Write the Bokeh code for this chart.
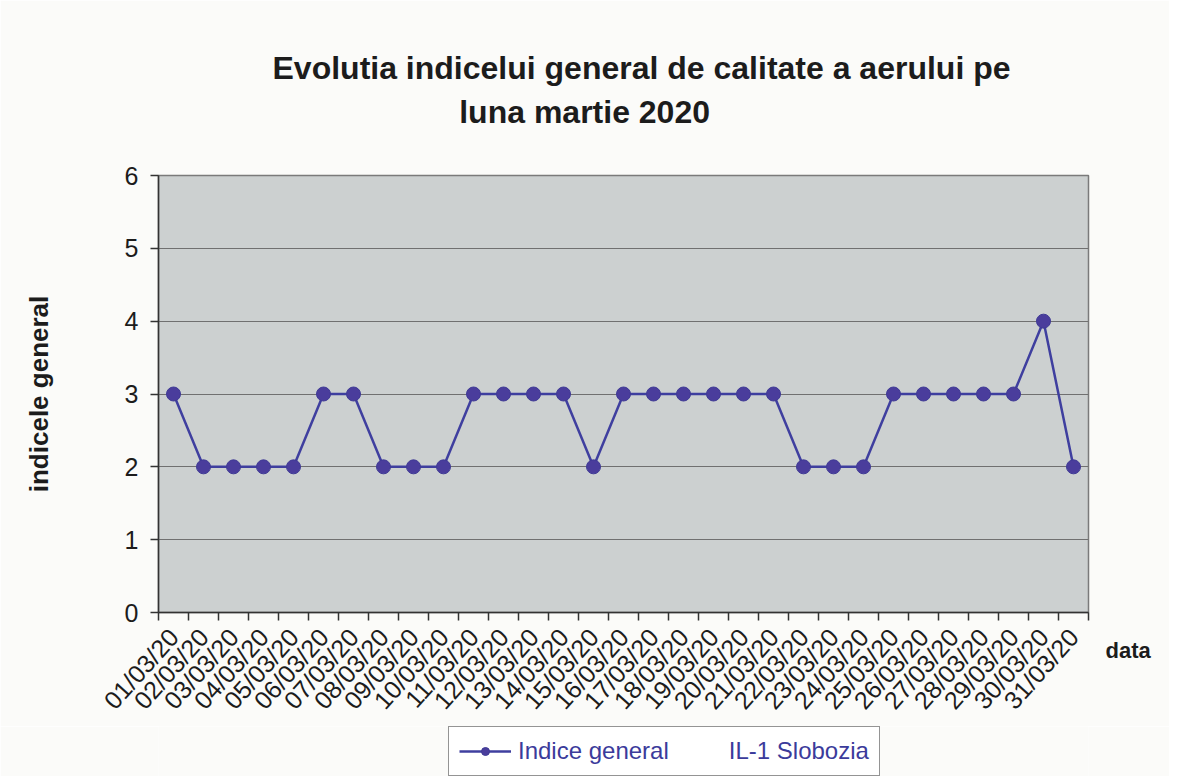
import math
from bokeh.plotting import figure
from bokeh.layouts import column
from bokeh.models import (ColumnDataSource, FixedTicker, Title, Legend,
                          LegendItem, Range1d, LinearAxis)
from bokeh.embed import file_html
from bokeh.resources import INLINE

# ---- data ----
dates = ["01/03/20", "02/03/20", "03/03/20", "04/03/20", "05/03/20", "06/03/20",
         "07/03/20", "08/03/20", "09/03/20", "10/03/20", "11/03/20", "12/03/20",
         "13/03/20", "14/03/20", "15/03/20", "16/03/20", "17/03/20", "18/03/20",
         "19/03/20", "20/03/20", "21/03/20", "22/03/20", "23/03/20", "24/03/20",
         "25/03/20", "26/03/20", "27/03/20", "28/03/20", "29/03/20", "30/03/20",
         "31/03/20"]
days = list(range(1, 32))
indice = [3, 2, 2, 2, 2, 3, 3, 2, 2, 2, 3, 3, 3, 3, 2, 3, 3, 3, 3, 3, 3,
          2, 2, 2, 3, 3, 3, 3, 3, 4, 2]
y_ticks = [0, 1, 2, 3, 4, 5, 6]
title_lines = ["Evolutia indicelui general de calitate a aerului pe",
               "luna martie 2020"]
series_name = "Indice general" + "\u00a0" * 9 + "IL-1 Slobozia"
y_label = "indicele general"
x_label = "data"

FONT = "Liberation Sans"
TXT = "#1c1c1c"
PAGE = "#fbfbf9"
LINE_C = "#3f3f9f"
MARK_C = "#4a3d9c"

p = figure(width=1169, height=726, output_backend="svg", toolbar_location=None,
           x_range=Range1d(0.5, 31.5), y_range=Range1d(0, 6),
           min_border_left=158, min_border_right=81,
           min_border_top=175, min_border_bottom=111,
           background_fill_color="#ccd0d0", border_fill_color=PAGE)
p.title.visible = False

title_text = title_lines[0] + "\n" + "\u00a0" * 21 + title_lines[1]
p.add_layout(Title(text=title_text, align="left", offset=114, standoff=90,
                   text_font=FONT, text_font_size="32px", text_font_style="bold",
                   text_line_height=1.24, text_color=TXT), "above")

src = ColumnDataSource(dict(x=days, y=indice))
ln = p.line("x", "y", source=src, line_color=LINE_C, line_width=2.5)
sc = p.scatter("x", "y", source=src, size=14, fill_color=MARK_C,
               line_color="#3f3a95")

# x axis
xa = p.xaxis[0]
xa.ticker = FixedTicker(ticks=days, minor_ticks=[d - 0.5 for d in days] + [31.5])
xa.major_label_overrides = {d: lab for d, lab in zip(days, dates)}
xa.major_label_orientation = 0.84
xa.major_tick_out = 0
xa.major_tick_in = 0
xa.minor_tick_out = 8
xa.minor_tick_in = 0
xa.minor_tick_line_color = "#333333"
xa.minor_tick_line_width = 1.5
xa.axis_line_color = "#333333"
xa.axis_line_width = 1.5
xa.major_label_standoff = 12
xa.major_label_text_font = FONT
xa.major_label_text_font_size = "25px"
xa.major_label_text_color = TXT

# x-axis title, shown to the right of the axis end (via a label-only right axis)
xr = LinearAxis(ticker=FixedTicker(ticks=[0]),
                major_label_overrides={0: "\n\n" + x_label},
                axis_line_color=None, major_tick_line_color=None,
                minor_tick_line_color=None, major_label_standoff=11,
                major_label_text_font=FONT, major_label_text_font_size="22px",
                major_label_text_font_style="bold",
                major_label_text_line_height=1.5,
                major_label_text_color=TXT)
p.add_layout(xr, "right")

# y axis
ya = p.yaxis[0]
ya.ticker = FixedTicker(ticks=y_ticks)
ya.major_tick_out = 8
ya.major_tick_in = 0
ya.minor_tick_out = 0
ya.minor_tick_in = 0
ya.major_tick_line_color = "#333333"
ya.major_tick_line_width = 1.5
ya.axis_line_color = "#333333"
ya.axis_line_width = 1.5
ya.major_label_standoff = 12
ya.major_label_text_font = FONT
ya.major_label_text_font_size = "25px"
ya.major_label_text_color = TXT
ya.axis_label = y_label
ya.axis_label_text_font = FONT
ya.axis_label_text_font_size = "26px"
ya.axis_label_text_font_style = "bold"
ya.axis_label_text_color = TXT
ya.axis_label_standoff = 68

p.xgrid.visible = False
p.ygrid.ticker = FixedTicker(ticks=y_ticks)
p.ygrid.grid_line_color = "#707070"
p.ygrid.grid_line_width = 1.2
p.outline_line_color = "#7a7a7a"
p.outline_line_width = 1.5

# legend strip below the chart
p2 = figure(width=1169, height=50, output_backend="svg", toolbar_location=None,
            x_range=Range1d(0, 1), y_range=Range1d(100, 101),
            x_axis_location=None, y_axis_location=None, min_border=0,
            background_fill_color=PAGE, border_fill_color=PAGE,
            outline_line_color=None)
p2.title.visible = False
p2.grid.visible = False
ln2 = p2.line("x", "y", source=src, line_color=LINE_C, line_width=2.5)
sc2 = p2.scatter("x", "y", source=src, size=11, fill_color=MARK_C,
                 line_color="#3f3a95")
legend = Legend(items=[LegendItem(label=series_name, renderers=[ln2, sc2])],
                location=(290, 0), orientation="horizontal",
                border_line_color="#2a2a2a", border_line_width=1.5,
                background_fill_color="white", background_fill_alpha=1,
                label_text_font=FONT, label_text_font_size="24px",
                label_text_color="#3b3b9b", glyph_width=52, glyph_height=20,
                label_standoff=7, padding=10, margin=0, label_width=300)
p2.add_layout(legend, "center")

layout = column(p, p2, spacing=0)
open("out.html", "w").write(file_html(layout, INLINE))
